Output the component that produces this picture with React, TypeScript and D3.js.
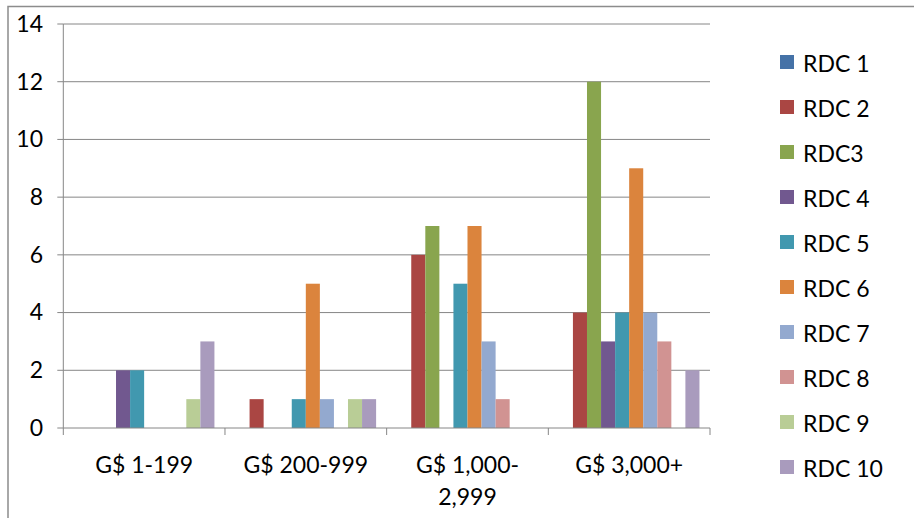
import React from "react";
import * as d3 from "d3";

const categories = ["G$ 1-199", "G$ 200-999", "G$ 1,000-2,999", "G$ 3,000+"];
const categoryLabelLines = [["G$ 1-199"], ["G$ 200-999"], ["G$ 1,000-", "2,999"], ["G$ 3,000+"]];
const seriesNames = ["RDC 1", "RDC 2", "RDC3", "RDC 4", "RDC 5", "RDC 6", "RDC 7", "RDC 8", "RDC 9", "RDC 10"];
const seriesColors = ["#4572A7", "#AA4643", "#89A54E", "#71588F", "#4198AF", "#DB843D", "#93A9CF", "#D19392", "#B9CD96", "#A99BBD"];
// values[series][category]
const rdc1 = [0, 0, 0, 0];
const rdc2 = [0, 1, 6, 4];
const rdc3 = [0, 0, 7, 12];
const rdc4 = [2, 0, 0, 3];
const rdc5 = [2, 1, 5, 4];
const rdc6 = [0, 5, 7, 9];
const rdc7 = [0, 1, 3, 4];
const rdc8 = [0, 0, 1, 3];
const rdc9 = [1, 1, 0, 0];
const rdc10 = [3, 1, 0, 2];
const seriesValues = [rdc1, rdc2, rdc3, rdc4, rdc5, rdc6, rdc7, rdc8, rdc9, rdc10];
const yTicks = [0, 2, 4, 6, 8, 10, 12, 14];

const W = 914;
const H = 518;
const FONT = "Lato, 'Open Sans', sans-serif";

export default function App() {
  const left = 63.3, right = 710, top = 24, bottom = 428;
  const x = d3.scaleBand<string>().domain(categories).range([left, right]).paddingInner(0).paddingOuter(0);
  const xs = d3.scaleBand<string>().domain(seriesNames).range([0, x.bandwidth()]).paddingInner(0).paddingOuter(0.75);
  const y = d3.scaleLinear().domain([0, 14]).range([bottom, top]);
  const grid = "#868686";

  return (
    <div style={{ position: "fixed", left: 0, top: 0, width: W, height: H, background: "#fff" }}>
      <svg width={W} height={H} style={{ display: "block" }} fontFamily={FONT}>
        <rect x={8} y={6.5} width={W + 20} height={H + 20} fill="#fff" stroke="#8c8c8c" strokeWidth={1.5} />
        {yTicks.map((t) => (
          <g key={t}>
            {t > 0 && <line x1={left} x2={right} y1={y(t)} y2={y(t)} stroke={grid} strokeWidth={1} />}
            <line x1={left - 6} x2={left} y1={y(t)} y2={y(t)} stroke={grid} strokeWidth={1} />
            <text x={43} y={y(t)} dy="0.34em" textAnchor="end" fontSize={23} fill="#000">{t}</text>
          </g>
        ))}
        <line x1={left} x2={left} y1={top} y2={bottom} stroke={grid} strokeWidth={1} />
        {seriesValues.map((vals, si) => (
          <g key={si} fill={seriesColors[si]}>
            {vals.map((v, ci) =>
              v > 0 ? (
                <rect key={ci} x={(x(categories[ci]) as number) + (xs(seriesNames[si]) as number)} y={y(v)} width={xs.bandwidth()} height={y(0) - y(v)} />
              ) : null
            )}
          </g>
        ))}
        <line x1={left} x2={right} y1={bottom} y2={bottom} stroke={grid} strokeWidth={1} />
        {[...categories.map((c) => x(c) as number), right].map((px, i) => (
          <line key={i} x1={px} x2={px} y1={bottom} y2={bottom + 7} stroke={grid} strokeWidth={1} />
        ))}
        {categories.map((c, i) => (
          <text key={c} x={(x(c) as number) + x.bandwidth() / 2} y={473} textAnchor="middle" fontSize={23} fill="#000">
            {categoryLabelLines[i].map((ln, j) => (
              <tspan key={j} x={(x(c) as number) + x.bandwidth() / 2} dy={j === 0 ? 0 : 32}>{ln}</tspan>
            ))}
          </text>
        ))}
        {seriesNames.map((s, i) => (
          <g key={s} transform={`translate(780, ${55 + i * 45})`}>
            <rect x={0} y={0} width={14} height={14} fill={seriesColors[i]} />
            <text x={23} y={17} fontSize={23} fill="#000">{s}</text>
          </g>
        ))}
      </svg>
    </div>
  );
}
